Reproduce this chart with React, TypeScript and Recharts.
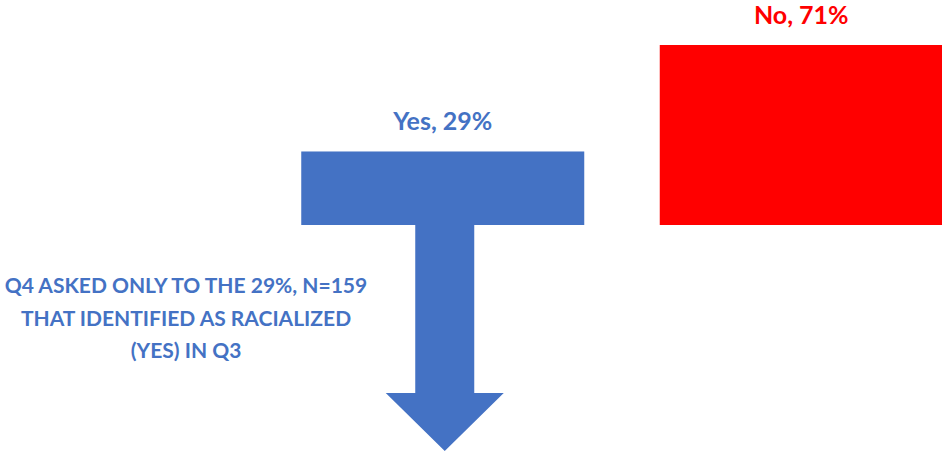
import React from 'react';
import { BarChart, Bar, XAxis, YAxis, Cell, LabelList } from 'recharts';

const categories = ['Yes', 'No'];
const percents = [29, 71];
const barColors = ['#4472C4', '#FF0000'];
const noteLines = ['Q4 ASKED ONLY TO THE 29%, N=159', 'THAT IDENTIFIED AS RACIALIZED', '(YES) IN Q3'];

const data = categories.map((c, i) => ({ name: c, value: percents[i], label: `${c}, ${percents[i]}%` }));

const FONT = 'Lato, "Noto Sans", sans-serif';

const BarShape = (props: any) => {
  const { x, y, width, height, fill, payload } = props;
  const bottom = y + height;
  const cx = x + width / 2 + 2;
  return (
    <g>
      <rect x={x} y={y} width={width} height={height} fill={fill} />
      {payload && payload.name === 'Yes' && (
        <polygon
          fill={fill}
          points={[
            [cx - 29.5, bottom],
            [cx + 29.5, bottom],
            [cx + 29.5, bottom + 168],
            [cx + 59, bottom + 168],
            [cx, bottom + 226],
            [cx - 59, bottom + 168],
            [cx - 29.5, bottom + 168],
          ]
            .map((p) => p.join(','))
            .join(' ')}
        />
      )}
    </g>
  );
};

const renderLabel = (props: any) => {
  const { x, y, width, index } = props;
  return (
    <text
      x={x + width / 2}
      y={y - 21.5}
      textAnchor="middle"
      fill={barColors[index]}
      fontFamily={FONT}
      fontWeight={700}
      fontSize={25}
    >
      {data[index].label}
    </text>
  );
};

export default function App() {
  return (
    <div style={{ position: 'absolute', left: 0, top: 0, width: 942, height: 452, overflow: 'hidden', background: '#fff' }}>
      <BarChart
        width={990}
        height={452}
        data={data}
        margin={{ top: 45, right: 9.75, bottom: 227, left: 263.25 }}
        barSize={283}
      >
        <XAxis dataKey="name" hide />
        <YAxis hide domain={[0, 71]} />
        <Bar dataKey="value" isAnimationActive={false} shape={BarShape}>
          {data.map((d, i) => (
            <Cell key={d.name} fill={barColors[i]} />
          ))}
          <LabelList dataKey="label" content={renderLabel} />
        </Bar>
      </BarChart>
      <div
        style={{
          position: 'absolute',
          left: 0,
          top: 269,
          width: 372,
          textAlign: 'center',
          fontFamily: FONT,
          fontWeight: 700,
          fontSize: 21,
          lineHeight: '32.5px',
          color: '#4472C4',
        }}
      >
        {noteLines.map((l) => (
          <div key={l}>{l}</div>
        ))}
      </div>
    </div>
  );
}
